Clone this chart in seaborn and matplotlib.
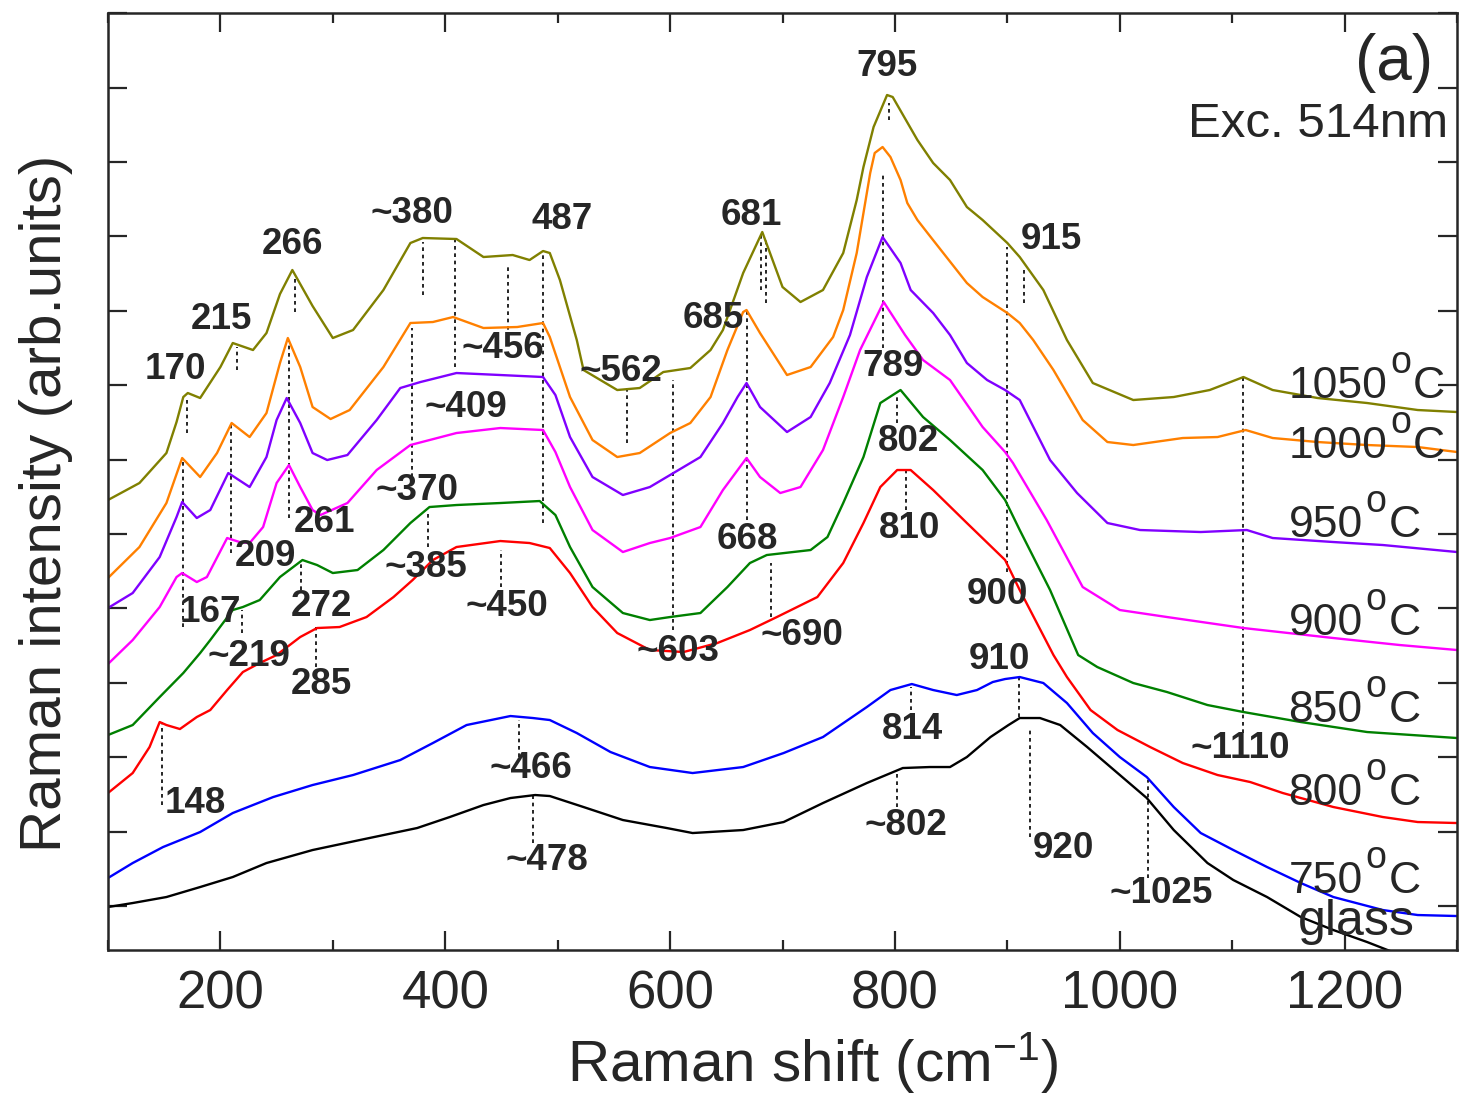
import numpy as np
import pandas as pd
import matplotlib
matplotlib.use("Agg")
import matplotlib.pyplot as plt
from matplotlib.ticker import MultipleLocator
import seaborn as sns

# ---- Raman spectra (stacked, arbitrary intensity units) ----
x_1050 = [100, 128, 152, 161, 167, 171, 182, 200, 211, 229, 241, 253, 264, 282, 300, 318, 345, 369, 380, 410,
          434, 460, 475, 487, 493, 502, 517, 523, 553, 573, 594, 618, 636, 647, 665, 682, 700, 716, 736, 754,
          766, 772, 781, 793, 798, 820, 834, 849, 864, 878, 900, 911, 932, 953, 976, 1012, 1048, 1080, 1110, 1136,
          1176, 1220, 1265, 1300]
y_1050 = [406, 423, 453, 484, 509, 513, 508, 539, 563, 556, 573, 612, 636, 600, 568, 576, 616, 663, 668, 667,
          649, 651, 646, 655, 653, 626, 566, 536, 516, 518, 534, 538, 556, 576, 633, 674, 619, 604, 616, 653,
          706, 739, 779, 811, 809, 766, 743, 726, 699, 686, 663, 649, 616, 566, 523, 506, 509, 516, 529, 516,
          508, 503, 496, 494]

x_1000 = [100, 128, 152, 166, 182, 197, 210, 226, 241, 253, 260, 271, 282, 298, 315, 345, 369, 389, 407, 434,
          464, 487, 493, 511, 531, 553, 573, 600, 618, 636, 651, 665, 668, 680, 704, 725, 745, 754, 766, 772,
          778, 782, 789, 796, 805, 811, 820, 829, 843, 864, 878, 900, 911, 923, 941, 967, 989, 1012, 1056, 1087,
          1112, 1136, 1176, 1220, 1265, 1300]
y_1000 = [328, 359, 403, 448, 429, 453, 483, 469, 493, 543, 568, 539, 499, 487, 496, 539, 583, 584, 589, 578,
          579, 583, 569, 509, 466, 449, 453, 473, 483, 509, 556, 594, 596, 573, 531, 539, 569, 596, 653, 693,
          733, 753, 759, 749, 726, 703, 686, 673, 653, 623, 609, 593, 583, 566, 536, 486, 464, 461, 468, 469,
          476, 468, 464, 461, 459, 454]

x_950 = [100, 122, 146, 161, 166, 179, 191, 207, 226, 241, 250, 259, 271, 282, 295, 313, 339, 360, 378, 410,
         449, 487, 498, 511, 531, 558, 582, 603, 627, 647, 660, 668, 680, 704, 725, 742, 760, 775, 789, 805,
         814, 834, 849, 864, 882, 898, 911, 938, 962, 989, 1018, 1072, 1113, 1136, 1190, 1234, 1300]
y_950 = [298, 313, 349, 389, 404, 388, 396, 433, 419, 449, 486, 508, 483, 453, 446, 451, 486, 518, 524, 533,
         531, 529, 511, 469, 429, 411, 419, 433, 449, 483, 509, 523, 499, 474, 489, 523, 571, 629, 669, 643,
         616, 593, 571, 543, 526, 516, 506, 446, 413, 383, 376, 374, 376, 368, 364, 361, 354]

x_900 = [100, 122, 146, 161, 166, 179, 188, 206, 217, 226, 238, 250, 261, 271, 282, 289, 313, 339, 369, 410,
         449, 487, 498, 511, 531, 558, 582, 600, 627, 647, 668, 680, 698, 716, 736, 754, 769, 790, 809, 825,
         849, 878, 898, 905, 935, 967, 1000, 1042, 1110, 1190, 1249, 1300]
y_900 = [242, 266, 299, 329, 333, 324, 329, 368, 364, 363, 379, 423, 441, 419, 396, 391, 403, 436, 461, 473,
         478, 476, 454, 419, 376, 354, 363, 368, 379, 416, 448, 429, 413, 419, 456, 509, 556, 604, 571, 546,
         526, 479, 454, 443, 386, 319, 296, 289, 278, 268, 261, 256]

x_850 = [100, 122, 146, 167, 182, 191, 211, 220, 235, 253, 273, 286, 300, 322, 345, 369, 386, 410, 449, 484,
         498, 511, 531, 558, 582, 600, 627, 651, 671, 686, 725, 740, 754, 772, 787, 805, 825, 849, 878, 898,
         911, 938, 963, 980, 1012, 1042, 1078, 1110, 1161, 1220, 1300]
y_850 = [171, 181, 209, 233, 253, 266, 296, 299, 306, 329, 346, 341, 333, 336, 356, 383, 399, 401, 403, 405,
         391, 359, 319, 293, 286, 289, 293, 319, 343, 351, 356, 369, 403, 449, 503, 516, 489, 466, 436, 406,
         376, 316, 251, 239, 223, 214, 201, 194, 184, 174, 168]

x_800 = [100, 122, 137, 146, 152, 164, 179, 191, 206, 220, 235, 250, 271, 286, 306, 330, 354, 371, 389, 410,
         449, 475, 493, 511, 531, 553, 582, 612, 642, 671, 695, 731, 754, 772, 787, 802, 814, 834, 864, 898,
         911, 941, 953, 974, 998, 1027, 1056, 1087, 1116, 1145, 1190, 1234, 1265, 1300]
y_800 = [113, 133, 159, 184, 181, 177, 189, 196, 216, 234, 243, 251, 269, 278, 279, 289, 309, 326, 346, 359,
         365, 363, 358, 333, 299, 273, 256, 254, 263, 276, 289, 309, 343, 383, 419, 436, 436, 416, 383, 346,
         316, 251, 229, 196, 176, 159, 143, 131, 124, 113, 99, 89, 84, 83]

x_750 = [100, 122, 149, 182, 211, 247, 282, 318, 360, 389, 419, 458, 478, 493, 517, 547, 582, 620, 665, 701,
         736, 775, 796, 815, 834, 855, 873, 887, 898, 911, 932, 953, 976, 1000, 1024, 1048, 1072, 1101, 1131, 1161,
         1190, 1234, 1265, 1300]
y_750 = [28, 43, 59, 74, 93, 109, 121, 131, 146, 163, 181, 190, 188, 186, 173, 154, 139, 133, 139, 153,
         169, 199, 216, 222, 216, 211, 216, 224, 227, 229, 223, 203, 173, 149, 129, 99, 73, 56, 39, 23,
         9, -4, -9, -10]

x_glass = [100, 122, 152, 182, 211, 241, 282, 324, 375, 404, 434, 458, 480, 493, 523, 558, 597, 620, 665, 701,
           736, 775, 807, 831, 849, 864, 885, 901, 911, 929, 947, 971, 998, 1024, 1048, 1078, 1101, 1131, 1161, 1190,
           1220, 1245]
y_glass = [-1, 3, 9, 19, 29, 43, 56, 66, 78, 89, 101, 108, 111, 110, 99, 86, 78, 73, 76, 84,
           103, 123, 138, 139, 139, 149, 169, 181, 188, 188, 181, 159, 133, 108, 76, 43, 26, 9, -11, -24,
           -36, -47]

samples = ["1050", "1000", "950", "900", "850", "800", "750", "glass"]
sample_x = [x_1050, x_1000, x_950, x_900, x_850, x_800, x_750, x_glass]
sample_y = [y_1050, y_1000, y_950, y_900, y_850, y_800, y_750, y_glass]
colors = ["#808000", "#FF8000", "#8000FF", "#FF00FF", "#008000", "#FF0000", "#0000FF", "#000000"]

# ---- assigned band positions: (position, lower end, upper end) of the dotted guides ----
band_pos = [170, 215, 266, 167, 209, 261, 380, 409, 456, 487, 370, 385, 450, 272, 219, 285, 148,
            466, 478, 562, 603, 681, 685, 668, 690, 795, 789, 802, 810, 915, 900, 910, 814, 802, 920,
            1025, 1110]
band_lo = [473, 536, 594, 279, 353, 388, 611, 539, 569, 383, 429, 359, 319, 316, 273, 239, 101,
           149, 63, 463, 276, 616, 603, 386, 289, 786, 558, 483, 396, 603, 334, 189, 196, 99, 69,
           28, 173]
band_hi = [509, 559, 629, 446, 481, 566, 664, 666, 639, 654, 578, 394, 356, 343, 296, 279, 184,
           186, 113, 519, 526, 673, 666, 595, 343, 803, 733, 509, 436, 636, 659, 229, 219, 134, 179,
           126, 529]

# band label text and its anchor (centre) in data coordinates
band_text = ["795", "681", "915", "~380", "487", "266", "215", "685", "170", "~456", "~562", "789",
             "~409", "802", "~370", "261", "668", "810", "209", "~385", "900", "167", "272", "~450",
             "~603", "~690", "~219", "910", "285", "814", "~1110", "~466", "148", "~802", "920",
             "~478", "~1025"]
band_tx = [793, 672, 939, 370, 504, 264, 201, 638, 160, 451, 556, 798,
           418, 812, 375, 293, 669, 813, 240, 383, 891, 191, 290, 455,
           607, 717, 225, 893, 290, 816, 1107, 476, 178, 810, 950,
           490, 1037]
band_ty = [840, 691, 667, 693, 687, 662, 587, 588, 537, 558, 535, 540,
           499, 465, 416, 384, 367, 378, 350, 339, 312, 294, 300, 300,
           255, 271, 250, 247, 222, 177, 158, 138, 103, 81, 58,
           46, 13]

# sample labels: temperature text and baseline height
temp_text = ["1050", "1000", "950", "900", "850", "800", "750"]
label_x = 1150
label_base = [508, 448, 369, 271, 184, 101, 13]
glass_x = 1158
glass_base = -29

# ---- style ----
sns.set_style("ticks")
plt.rcParams["font.family"] = ["Liberation Sans", "DejaVu Sans"]
plt.rcParams["mathtext.fontset"] = "custom"
plt.rcParams["mathtext.rm"] = "Liberation Sans"
plt.rcParams["mathtext.it"] = "Liberation Sans:italic"
plt.rcParams["mathtext.bf"] = "Liberation Sans:bold"

frames = []
for name, xs, ys in zip(samples, sample_x, sample_y):
    frames.append(pd.DataFrame({"shift": xs, "intensity": ys, "sample": name}))
df = pd.concat(frames, ignore_index=True)

fig = plt.figure(figsize=(14.61, 10.93), dpi=100)
ax = fig.add_axes([0.0739, 0.1308, 0.9234, 0.8573])

ax.vlines(band_pos, band_lo, band_hi, colors="black", linestyles=(0, (2.2, 2.2)), linewidth=1.2, zorder=1)

sns.lineplot(data=df, x="shift", y="intensity", hue="sample", hue_order=samples,
             palette=dict(zip(samples, colors)), estimator=None, sort=False,
             legend=False, linewidth=1.7, ax=ax, zorder=2)

for t, tx, ty in zip(band_text, band_tx, band_ty):
    ax.text(tx, ty, t, ha="center", va="center", fontsize=26.5, fontweight="bold", zorder=3)

# temperature labels with a raised "o" as the degree sign
for num, yb in zip(temp_text, label_base):
    t_num = ax.text(label_x, yb, num, ha="left", va="baseline", fontsize=32, zorder=3)
    t_deg = ax.annotate("o", xy=(1, 1), xycoords=t_num, xytext=(2.0, 15), textcoords="offset points",
                        ha="left", va="top", fontsize=27, zorder=3)
    ax.annotate("C", xy=(1, 0), xycoords=(t_deg, t_num), xytext=(1.5, 0), textcoords="offset points",
                ha="left", va="bottom", fontsize=32, zorder=3)
ax.text(glass_x, glass_base, "glass", ha="left", va="baseline", fontsize=36, zorder=3)

ax.text(0.982, 0.9466, "(a)", transform=ax.transAxes, ha="right", va="center", fontsize=46)
ax.text(0.9935, 0.868, "Exc. 514nm", transform=ax.transAxes, ha="right", va="baseline", fontsize=35.5)

ax.set_xlim(100, 1300)
ax.set_ylim(-44, 893)
ax.xaxis.set_major_locator(MultipleLocator(200))
ax.xaxis.set_minor_locator(MultipleLocator(100))
ax.set_yticks(np.arange(0, 893, 74.4))
ax.set_yticklabels([])

ax.tick_params(axis="both", which="major", direction="in", length=14, width=1.6,
               top=True, right=True, labelsize=38, pad=14)
ax.tick_params(axis="x", which="minor", direction="in", length=7, width=1.6, top=True)
for sp in ax.spines.values():
    sp.set_linewidth(1.8)
    sp.set_visible(True)

ax.set_xlabel("Raman shift (cm$^\\mathregular{-1}$)", fontsize=42)
ax.set_ylabel("Raman intensity (arb.units)", fontsize=42)
ax.xaxis.set_label_coords(0.522, -0.085)
ax.yaxis.set_label_coords(-0.026, 0.477)

fig.savefig("out.png", dpi=100)
